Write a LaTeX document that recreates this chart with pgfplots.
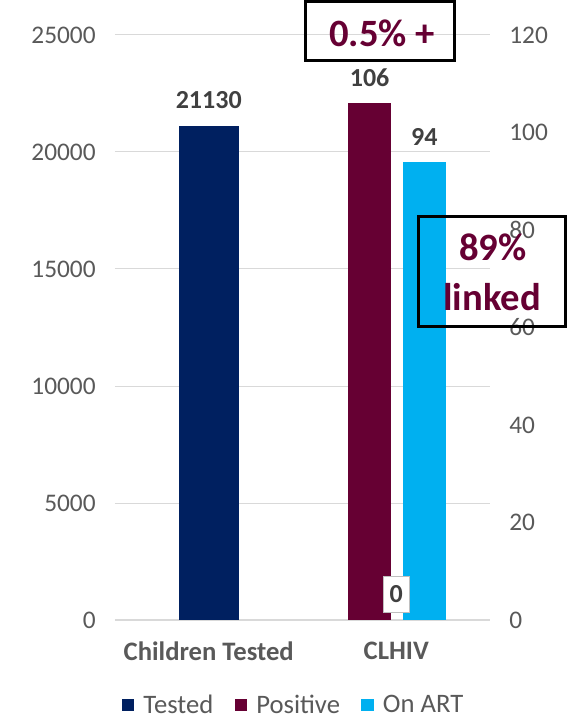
\documentclass[border=0pt]{standalone}
\usepackage{pgfplots}
\pgfplotsset{compat=1.18}
\usepackage{fontspec}
\setmainfont{Carlito}
\definecolor{navy}{HTML}{002060}
\definecolor{maroon}{HTML}{660033}
\definecolor{sky}{HTML}{00B0F0}
\definecolor{gridc}{HTML}{D9D9D9}
\definecolor{tickc}{HTML}{595959}
\definecolor{labc}{HTML}{404040}
\begin{document}
\begin{tikzpicture}
\useasboundingbox (0,0) rectangle (435pt,538.5pt);
\pgfplotsset{
  base/.style={scale only axis, width=281.25pt, height=438.75pt,
    at={(86.25pt,73.5pt)}, anchor=south west,
    xmin=-0.5, xmax=1.5, ymin=0, major tick length=0pt,
    scaled y ticks=false,
    /pgf/number format/assume math mode=true,
    /pgf/number format/1000 sep={},
    tick label style={font=\fontsize{19}{22}\selectfont, text=tickc},
    clip=false},
  sqleg/.style={legend image code/.code={\fill[##1,draw=none] (0pt,-4.6pt) rectangle (9.2pt,4.6pt);}},
}
\begin{axis}[base, ymax=25000, ytick={0,5000,10000,15000,20000,25000},
  yticklabels={0,5000,10000,15000,20000,25000},
  ymajorgrids, grid style={gridc, line width=0.75pt},
  axis x line*=bottom, axis y line*=left,
  y axis line style={draw=none}, x axis line style={gridc, line width=1.5pt, -},
  xtick={0,1}, xticklabels={Children Tested, CLHIV},
  xticklabel style={font=\fontsize{20}{23}\selectfont\bfseries, text=tickc, yshift=-13pt},
  yticklabel style={xshift=-11pt},
  ybar, bar width=45pt,
  nodes near coords,
  nodes near coords style={font=\fontsize{19.5}{22}\selectfont\bfseries, text=labc, yshift=9pt}]
\addplot[fill=navy, draw=none, bar shift=0pt] coordinates {(0,21130)};
\end{axis}
\begin{axis}[base, ymax=120, ytick={0,20,40,60,80,100,120},
  axis y line*=right, axis x line=none, y axis line style={draw=none},
  yticklabel style={xshift=11pt},
  ybar, bar width=32.25pt,
  nodes near coords,
  nodes near coords style={font=\fontsize{19.5}{22}\selectfont\bfseries, text=labc, yshift=9pt},
  legend style={draw=none, fill=none, legend columns=-1,
    at={(0.477,-0.145)}, anchor=center,
    font=\fontsize{20}{23}\selectfont, text=tickc,
    /tikz/every odd column/.append style={column sep=5pt},
    /tikz/every even column/.append style={column sep=14pt}},
  ]
\addlegendimage{sqleg, fill=navy}
\addplot[sqleg, fill=maroon, draw=none, bar shift=-20pt] coordinates {(1,106)};
\addplot[sqleg, fill=sky, draw=none, bar shift=21pt] coordinates {(1,94)};
\addplot[forget plot, draw=none, fill=none, bar shift=0pt,
  nodes near coords style={fill=white, draw=gray!50, anchor=center, yshift=10.5pt,
    minimum width=19pt, minimum height=27pt, inner sep=0pt}] coordinates {(1,0)};
\legend{Tested, Positive, On ART}
\end{axis}
\draw[black, line width=2.25pt] (229.1pt,537.4pt) rectangle (340.9pt,493.1pt);
\node[font=\fontsize{29}{32}\selectfont\bfseries, text=maroon] at (286.5pt,513.75pt) {0.5\% +};
\draw[black, line width=2.25pt] (313.9pt,376.1pt) rectangle (424.1pt,293.6pt);
\node[font=\fontsize{29}{32}\selectfont\bfseries, text=maroon] at (369.75pt,353.25pt) {89\%};
\node[font=\fontsize{29}{32}\selectfont\bfseries, text=maroon] at (369pt,315.75pt) {linked};
\end{tikzpicture}
\end{document}
